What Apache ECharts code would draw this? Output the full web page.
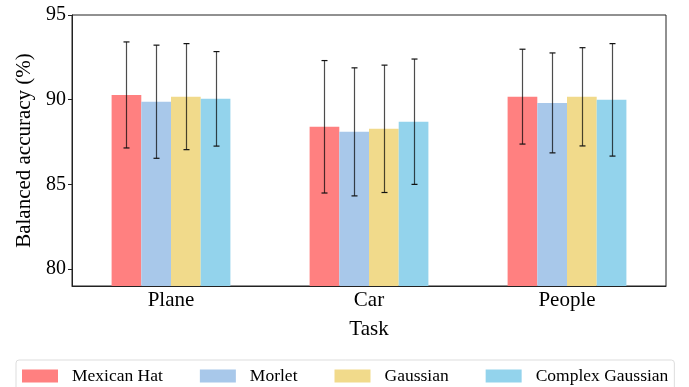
<!DOCTYPE html>
<html><head><meta charset="utf-8">
<script src="https://cdn.jsdelivr.net/npm/echarts@6/dist/echarts.min.js"></script>
<style>html,body{margin:0;padding:0;background:#fff}#c{width:689px;height:387px}</style>
</head><body><div id="c"></div>
<script>
var categories = ['Plane', 'Car', 'People'];
var seriesNames = ['Mexican Hat', 'Morlet', 'Gaussian', 'Complex Gaussian'];
var meanMexicanHat = [90.28, 88.40, 90.18];
var errMexicanHat = [3.13, 3.91, 2.80];
var meanMorlet = [89.88, 88.10, 89.81];
var errMorlet = [3.34, 3.78, 2.95];
var meanGaussian = [90.18, 88.28, 90.17];
var errGaussian = [3.13, 3.76, 2.90];
var meanComplexGaussian = [90.05, 88.70, 89.99];
var errComplexGaussian = [2.79, 3.70, 3.32];
var yTicks = [80, 85, 90, 95];

var colors = ['#ff8080', '#a8c8ea', '#f1da8b', '#93d3ec'];
var means = [meanMexicanHat, meanMorlet, meanGaussian, meanComplexGaussian];
var errs = [errMexicanHat, errMorlet, errGaussian, errComplexGaussian];
var font = '"Liberation Serif", "Times New Roman", serif';
var nS = 4, groupFrac = 0.6;

var series = [];
for (var i = 0; i < nS; i++) {
  series.push({
    name: seriesNames[i], type: 'bar', data: means[i],
    itemStyle: { color: colors[i] }, barGap: '0%', barCategoryGap: '40%',
    emphasis: { disabled: true }
  });
}
for (var i = 0; i < nS; i++) {
  (function (idx) {
    var d = [];
    for (var k = 0; k < categories.length; k++) {
      d.push([k, means[idx][k] - errs[idx][k], means[idx][k] + errs[idx][k]]);
    }
    series.push({
      type: 'custom', name: seriesNames[idx] + ' err', z: 10, silent: true,
      data: d, encode: { x: 0, y: [1, 2] },
      renderItem: function (params, api) {
        var cw = api.size([1, 0])[0];
        var bw = cw * groupFrac / nS;
        var off = (idx - (nS - 1) / 2) * bw;
        var lo = api.coord([api.value(0), api.value(1)]);
        var hi = api.coord([api.value(0), api.value(2)]);
        var x = Math.round(lo[0] + off) + 0.5;
        var cap = 3;
        var st = { stroke: 'rgba(0,0,0,0.7)', lineWidth: 1.2 };
        var cs = { stroke: '#111', lineWidth: 1.2 };
        return { type: 'group', children: [
          { type: 'line', shape: { x1: x, y1: lo[1], x2: x, y2: hi[1] }, style: st },
          { type: 'line', shape: { x1: x - cap, y1: hi[1], x2: x + cap, y2: hi[1] }, style: cs },
          { type: 'line', shape: { x1: x - cap, y1: lo[1], x2: x + cap, y2: lo[1] }, style: cs }
        ]};
      }
    });
  })(i);
}

var chart = echarts.init(document.getElementById('c'), null, { renderer: 'canvas' });
chart.setOption({
  animation: false,
  textStyle: { fontFamily: font },
  grid: { left: 72, right: 23, top: 15, bottom: 101, show: true, borderColor: '#222', borderWidth: 1, backgroundColor: 'transparent' },
  legend: {
    data: seriesNames, left: 16, top: 360,
    itemWidth: 36, itemHeight: 13, itemGap: 37,
    padding: [7, 6, 6, 6],
    borderColor: '#dddddd', borderWidth: 1, borderRadius: 3,
    icon: 'rect',
    textStyle: { fontFamily: font, fontSize: 17.5, color: '#000', padding: [0, 0, 0, 9] }
  },
  xAxis: {
    type: 'category', data: categories,
    name: 'Task', nameLocation: 'middle', nameGap: 33,
    nameTextStyle: { fontFamily: font, fontSize: 21, color: '#000' },
    axisLine: { lineStyle: { color: '#222', width: 1 } },
    axisTick: { alignWithLabel: true, length: 4, lineStyle: { color: '#222' } },
    axisLabel: { fontFamily: font, fontSize: 21, color: '#000', margin: 4 }
  },
  yAxis: {
    type: 'value', min: 79, max: 95,
    name: 'Balanced accuracy (%)', nameLocation: 'middle', nameGap: 32, nameRotate: 90,
    nameTextStyle: { fontFamily: font, fontSize: 21, color: '#000' },
    splitLine: { show: false },
    axisLine: { show: true, lineStyle: { color: '#222', width: 1 } },
    axisTick: { show: true, length: 4, lineStyle: { color: '#222' }, customValues: yTicks },
    axisLabel: { fontFamily: font, fontSize: 20, color: '#000', margin: 6, customValues: yTicks }
  },
  series: series
});
</script></body></html>
